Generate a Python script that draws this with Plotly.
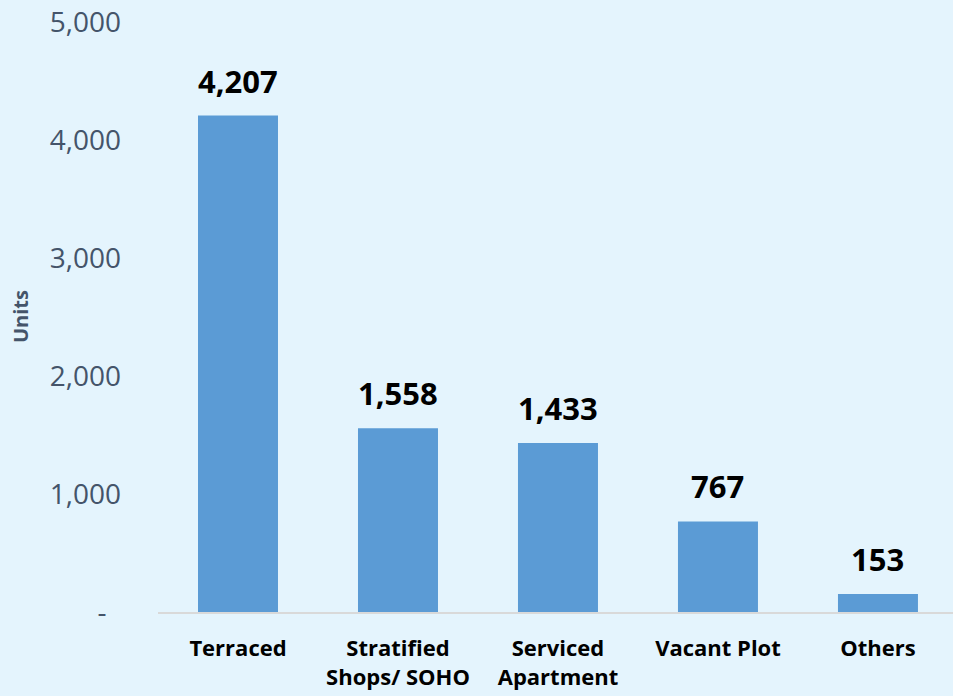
import plotly.graph_objects as go

categories = ["Terraced", "Stratified<br>Shops/ SOHO", "Serviced<br>Apartment", "Vacant Plot", "Others"]
units = [4207, 1558, 1433, 767, 153]
y_tickvals = [0, 1000, 2000, 3000, 4000, 5000]
y_ticktext = ["-\u00a0\u00a0", "1,000", "2,000", "3,000", "4,000", "5,000"]
y_title = "Units"

BG = "#E4F4FD"
BAR = "#5B9BD5"
AXIS_TXT = "#44546A"
FONT = "Open Sans"

W, H = 953, 696
ML, MR, MT, MB = 158, 0, 22, 84

fig = go.Figure()
fig.add_trace(go.Bar(
    x=list(range(len(categories))),
    y=units,
    width=0.5,
    marker=dict(color=BAR, line=dict(width=0)),
    hoverinfo="skip",
))

for i, v in enumerate(units):
    fig.add_annotation(
        x=i, y=v, text=f"<b>{v:,}</b>", showarrow=False,
        yanchor="bottom", yshift=12,
        font=dict(family=FONT, size=31, color="#000000"),
    )

# axis title placed as rotated annotation
fig.add_annotation(
    xref="paper", yref="paper",
    x=(20 - ML) / (W - ML - MR), y=0.5,
    xanchor="center", yanchor="middle",
    text=f"<b>{y_title}</b>", textangle=-90, showarrow=False,
    font=dict(family=FONT, size=20, color=AXIS_TXT),
)

fig.update_layout(
    width=W, height=H,
    margin=dict(l=ML, r=MR, t=MT, b=MB),
    paper_bgcolor=BG, plot_bgcolor=BG,
    showlegend=False,
    font=dict(family=FONT),
    xaxis=dict(
        range=[-0.5, 4.469],
        tickvals=list(range(len(categories))),
        ticktext=[f"<b>{c}</b>" for c in categories],
        tickfont=dict(family=FONT, size=22, color="#000000"),
        showgrid=False, zeroline=False,
        showline=True, linecolor="#D9D9D9", linewidth=2,
        ticks="", ticklabelstandoff=16, automargin=False,
    ),
    yaxis=dict(
        range=[0, 5000],
        tickvals=y_tickvals, ticktext=y_ticktext,
        tickfont=dict(family=FONT, size=28, color=AXIS_TXT),
        showgrid=False, zeroline=False, showline=False,
        ticks="", ticklabelstandoff=36, automargin=False,
    ),
)

fig.write_html(
    "out.html",
    config={"displayModeBar": False},
    post_script="document.body.style.margin='0';document.body.style.overflow='hidden';",
)
